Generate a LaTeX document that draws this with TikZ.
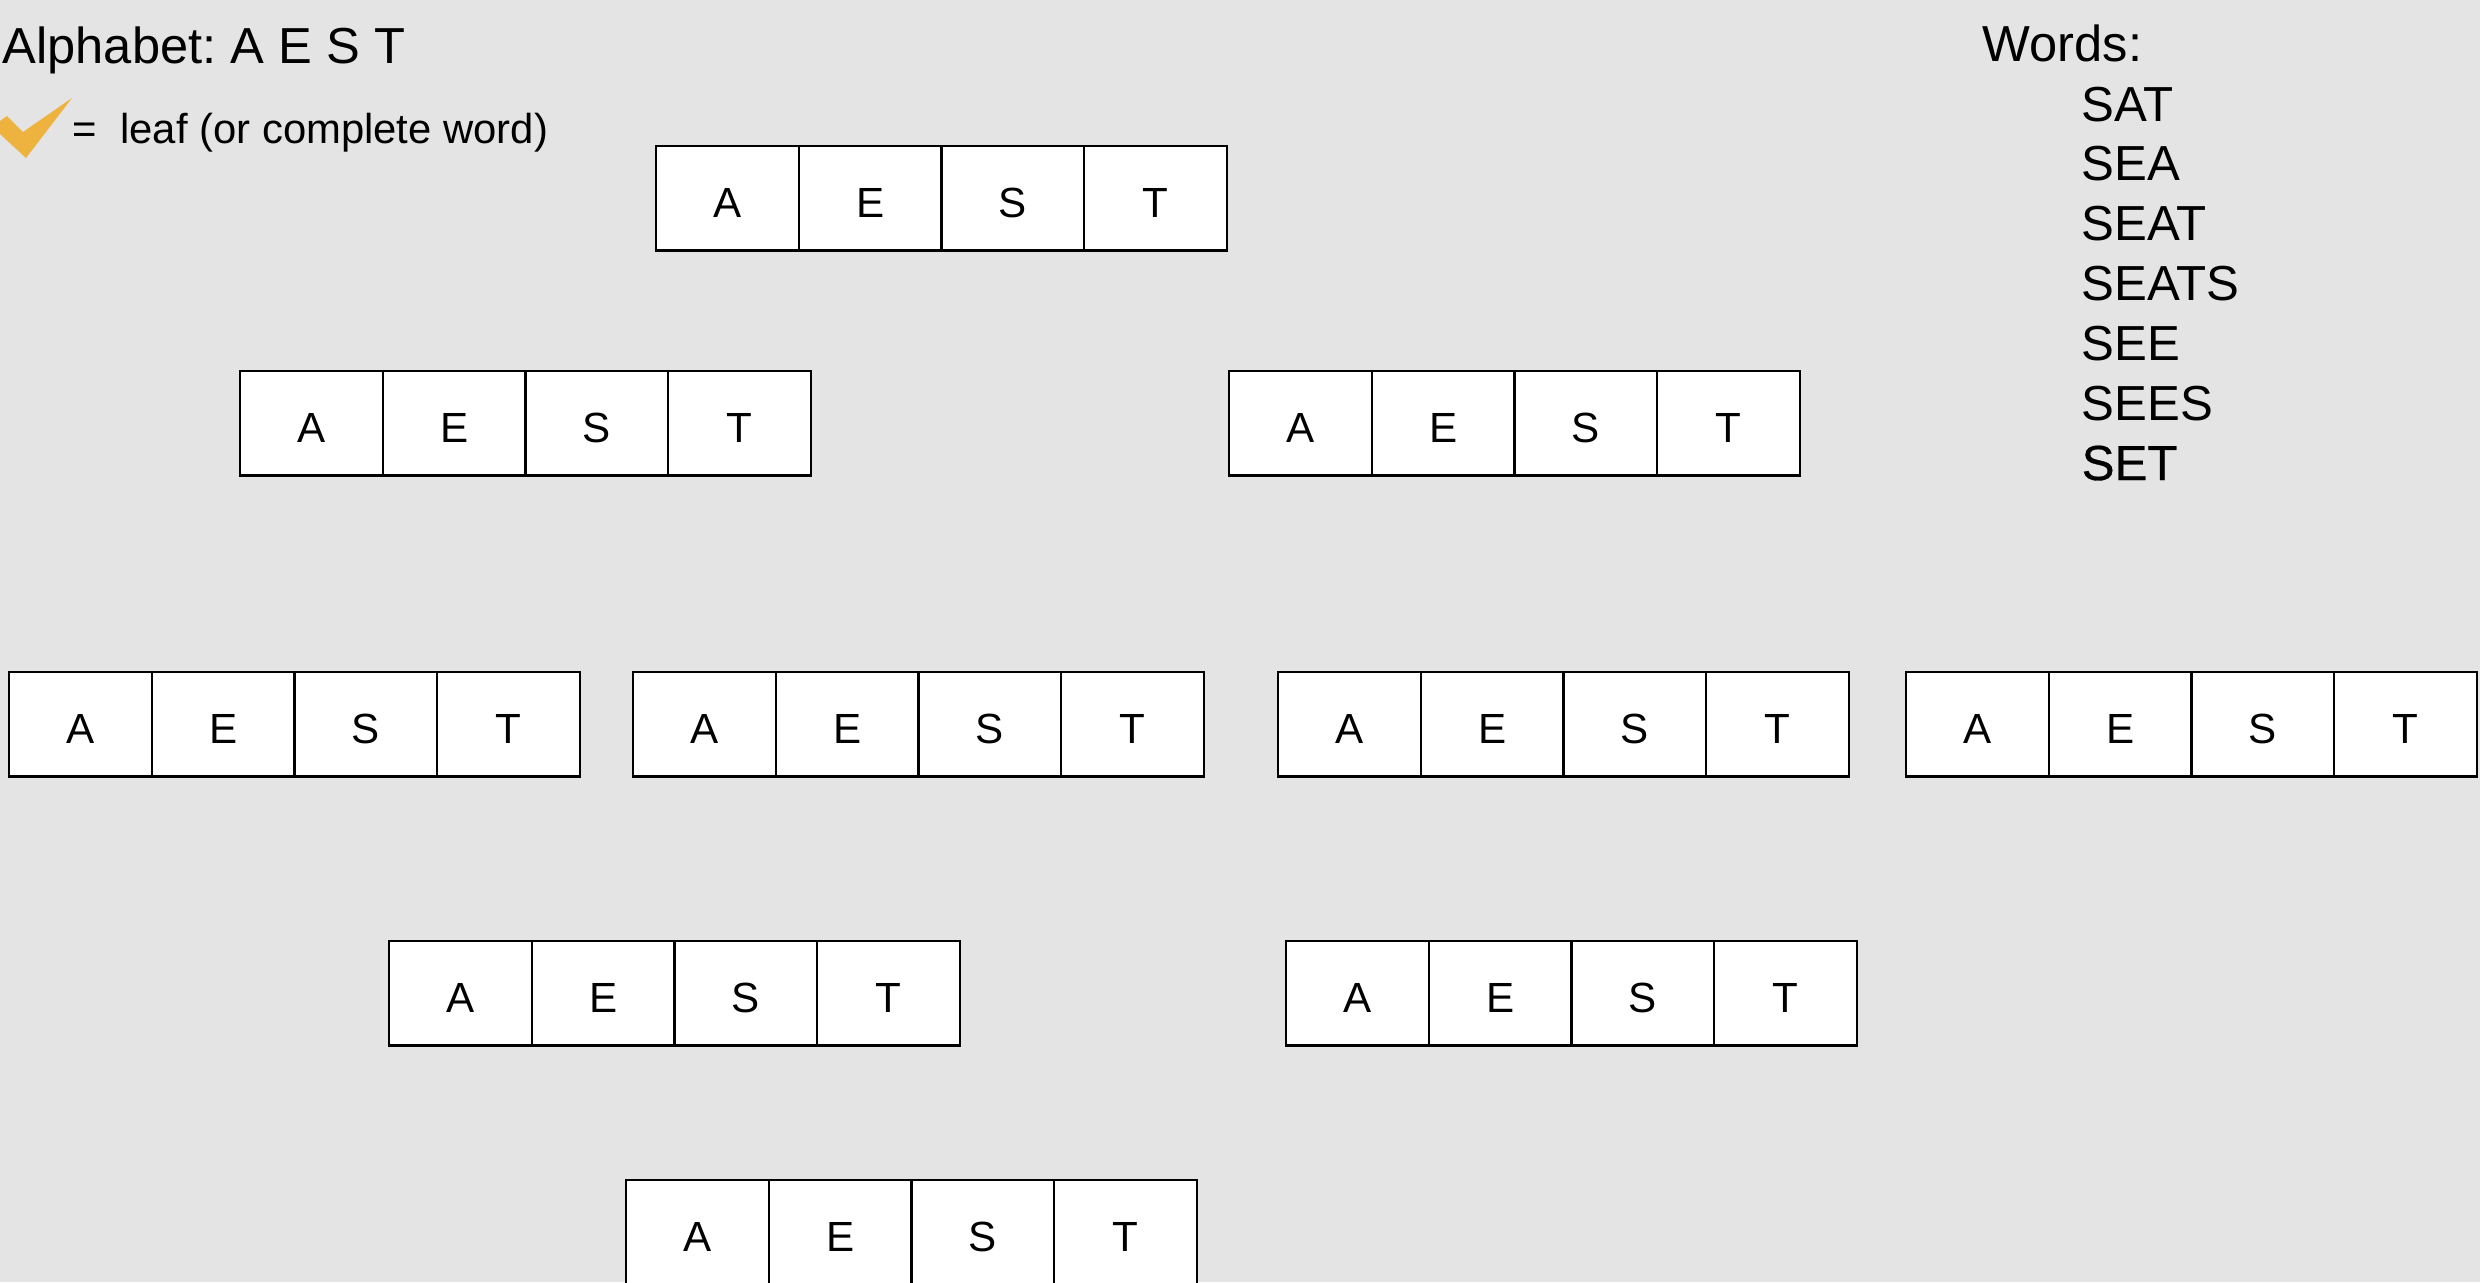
\documentclass[tikz,border=0pt]{standalone}
\usepackage{fontspec}
\setmainfont{Liberation Sans}
\newfontfamily\semibold[FakeBold=0.6]{Liberation Sans}
\frenchspacing
\definecolor{bg}{RGB}{228,228,228}
\definecolor{tick}{RGB}{238,178,62}
\tikzset{
  cell/.style={draw=black, fill=white, line width=0.65pt, inner sep=0pt, outer sep=0pt,
    minimum width=14.275mm, minimum height=10.45mm, text height=10.8pt, text depth=0pt,
    font=\fontsize{12}{14}\selectfont},
  heading/.style={anchor=base west, inner sep=0pt, font=\fontsize{14.4}{17}\selectfont},
  wordtxt/.style={anchor=base west, inner sep=0pt, font=\fontsize{14}{17}\selectfont},
  legendtxt/.style={anchor=base west, inner sep=0pt, font=\fontsize{11.9}{14}\selectfont}
}
\newcommand\aestrow[3]{%
  \node[cell, anchor=north west] (#1-A) at (#2,#3) {A};
  \node[cell, anchor=west] (#1-E) at (#1-A.east) {E};
  \node[cell, anchor=west] (#1-S) at (#1-E.east) {S};
  \node[cell, anchor=west] (#1-T) at (#1-S.east) {T};
}
\begin{document}
\begin{tikzpicture}[x=0.1mm, y=-0.1mm]
\useasboundingbox (0,0) rectangle (2480,1282);
\fill[bg] (0,0) rectangle (2480,1282);
\clip (0,0) rectangle (2480,1282);
% legend
\node[heading] (alpha) at (2,63) {Alphabet: A E S T};
\fill[tick] (0,121) -- (7,116) -- (23,132) -- (72,98) -- (26,158) -- (0,134) -- cycle;
\node[legendtxt] (legend) at (72,143) {=\ \ leaf (or complete word)};
% words
\node[heading] (words) at (1982,61) {Words:};
\node[wordtxt] (w1) at (2081,121) {SAT};
\node[wordtxt] (w2) at (2081,180) {SEA};
\node[wordtxt] (w3) at (2081,240) {SEAT};
\node[wordtxt] (w4) at (2081,300) {SEATS};
\node[wordtxt] (w5) at (2081,360) {SEE};
\node[wordtxt] (w6) at (2081,420) {SEES};
\node[wordtxt, font=\fontsize{14}{17}\selectfont\semibold] (w7) at (2081,480) {SET};
% boxes
\aestrow{root}{656}{146}
\aestrow{b2}{240}{371}
\aestrow{b3}{1229}{371}
\aestrow{b4}{9}{672}
\aestrow{b5}{633}{672}
\aestrow{b6}{1278}{672}
\aestrow{b7}{1906}{672}
\aestrow{b8}{389}{941}
\aestrow{b9}{1286}{941}
\aestrow{b10}{626}{1180}
\end{tikzpicture}
\end{document}
